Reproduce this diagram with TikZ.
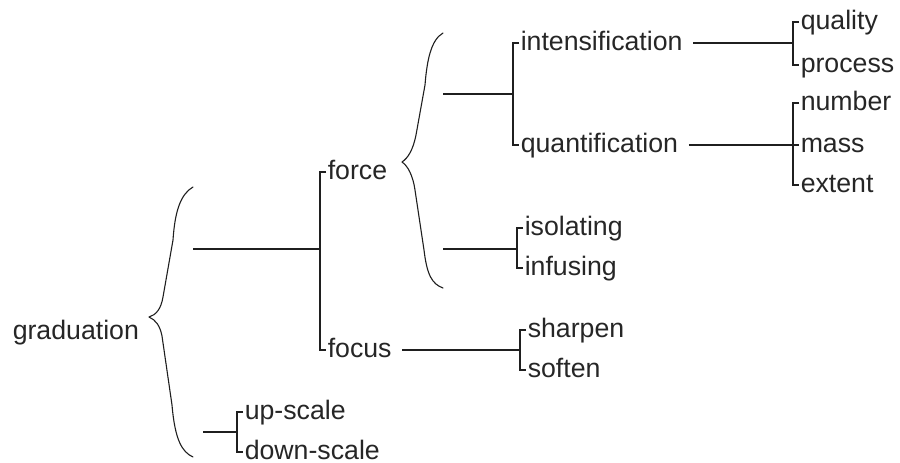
\documentclass[tikz,border=0pt]{standalone}
\usepackage{fontspec}
\setmainfont{Liberation Sans}
\begin{document}
\begin{tikzpicture}[x=1pt,y=-1pt,line width=1.5pt,color=black!88,
  lbl/.style={anchor=west,inner xsep=1pt,inner ysep=0pt,text height=14pt,text depth=0pt,
    font=\fontsize{26.7}{32}\selectfont,text=black!85},
  brace/.style={line width=1.1pt,line join=round,line cap=round},
  gap/.style={shorten <=9pt}]
\useasboundingbox (0,0) rectangle (900,463);

% labels
\node[lbl] (grad)    at (11,332)  {graduation};
\node[lbl] (force)   at (326,172) {force};
\node[lbl] (focus)   at (326,350) {focus};
\node[lbl] (up)      at (243,412) {up-scale};
\node[lbl] (down)    at (243,452) {down-scale};
\node[lbl] (intens)  at (519,43)  {intensification};
\node[lbl] (quant)   at (519,145) {quantification};
\node[lbl] (isol)    at (523,228) {isolating};
\node[lbl] (infus)   at (523,268) {infusing};
\node[lbl] (quality) at (799,22)  {quality};
\node[lbl] (process) at (799,65)  {process};
\node[lbl] (number)  at (799,103) {number};
\node[lbl] (mass)    at (799,145) {mass};
\node[lbl] (extent)  at (799,185) {extent};
\node[lbl] (sharpen) at (526,330) {sharpen};
\node[lbl] (soften)  at (526,370) {soften};

% junction points
\coordinate (gA) at (193,249);
\coordinate (jA) at (320,249);
\coordinate (gB) at (203,432);
\coordinate (jB) at (237,432);
\coordinate (fA) at (443,94);
\coordinate (kA) at (513,94);
\coordinate (fB) at (443,249);
\coordinate (kB) at (517,249);
\coordinate (kC) at (793,43);
\coordinate (kE) at (520,350);

% braces
\draw[brace] (193,187) .. controls (181,194) and (175,210) .. (173,240)
  -- (163,297) .. controls (161,309) and (156,315) .. (149,317)
  .. controls (156,320) and (160,326) .. (162,336)
  -- (172,405) .. controls (175,440) and (182,452) .. (193,457);
\draw[brace] (443,33) .. controls (431,40) and (427,60) .. (425,85)
  -- (416,135) .. controls (413,150) and (408,158) .. (402,162)
  .. controls (408,166) and (413,176) .. (415,190)
  -- (424,250) .. controls (427,275) and (432,284) .. (443,288);

% connectors
\draw (gA) -- (jA);
\draw (force.west) -| (jA) |- (focus.west);
\draw (gB) -- (jB);
\draw (up.west) -| (jB) |- (down.west);
\draw (fA) -- (kA);
\draw (intens.west) -| (kA) |- (quant.west);
\draw (fB) -- (kB);
\draw (isol.west) -| (kB) |- (infus.west);
\draw[gap] (intens.east) -- (kC);
\draw (quality.west) -| (kC) |- (process.west);
\draw[gap] (quant.east) -- (mass.west);
\draw (number.west) -| ([xshift=-6pt]mass.west) |- (extent.west);
\draw[gap] (focus.east) -- (kE);
\draw (sharpen.west) -| (kE) |- (soften.west);
\end{tikzpicture}
\end{document}
